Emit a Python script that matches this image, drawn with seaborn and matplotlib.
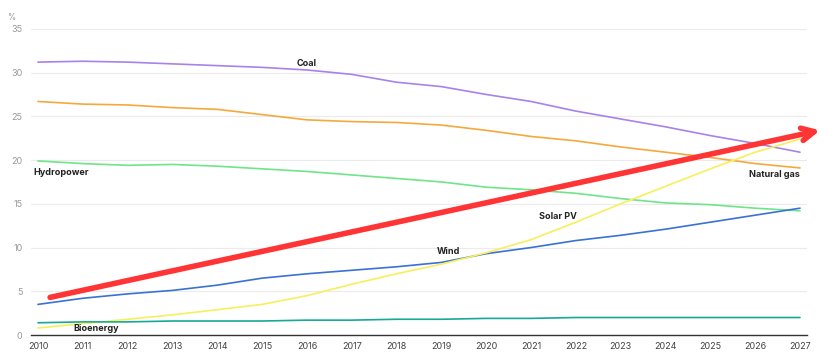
import pandas as pd
import numpy as np
import matplotlib.pyplot as plt
import seaborn as sns

# ---- data (share of electricity generation, %) ----
years = list(range(2010, 2028))
coal = [31.2, 31.3, 31.2, 31.0, 30.8, 30.6, 30.3, 29.8, 28.9, 28.4, 27.5, 26.7, 25.6, 24.7, 23.8, 22.8, 21.9, 20.9]
natural_gas = [26.7, 26.4, 26.3, 26.0, 25.8, 25.2, 24.6, 24.4, 24.3, 24.0, 23.4, 22.7, 22.2, 21.5, 20.9, 20.3, 19.6, 19.1]
hydropower = [19.9, 19.6, 19.4, 19.5, 19.3, 19.0, 18.7, 18.3, 17.9, 17.5, 16.9, 16.6, 16.2, 15.6, 15.1, 14.9, 14.5, 14.2]
wind = [3.5, 4.2, 4.7, 5.1, 5.7, 6.5, 7.0, 7.4, 7.8, 8.3, 9.3, 10.0, 10.8, 11.4, 12.1, 12.9, 13.7, 14.5]
solar_pv = [0.8, 1.3, 1.8, 2.3, 2.9, 3.5, 4.5, 5.8, 7.0, 8.1, 9.4, 10.9, 12.9, 15.0, 17.0, 19.0, 20.9, 22.4]
bioenergy = [1.4, 1.5, 1.5, 1.6, 1.6, 1.6, 1.7, 1.7, 1.8, 1.8, 1.9, 1.9, 2.0, 2.0, 2.0, 2.0, 2.0, 2.0]

series = {
    "Coal": coal,
    "Natural gas": natural_gas,
    "Hydropower": hydropower,
    "Wind": wind,
    "Solar PV": solar_pv,
    "Bioenergy": bioenergy,
}
colors = {
    "Coal": "#a882ea",
    "Natural gas": "#f7a83c",
    "Hydropower": "#6fe589",
    "Wind": "#3a72d4",
    "Solar PV": "#f7ef5c",
    "Bioenergy": "#17a898",
}

# trend arrow (start / end in data units)
arrow_start = (2010.27, 4.3)
arrow_end = (2027.45, 23.4)

# label positions
labels = {
    "Coal": (2016.0, 31.0, "center"),
    "Natural gas": (2027.0, 18.3, "right"),
    "Hydropower": (2009.9, 18.6, "left"),
    "Solar PV": (2021.6, 13.5, "center"),
    "Wind": (2019.15, 9.5, "center"),
    "Bioenergy": (2011.3, 0.75, "center"),
}

df = pd.DataFrame([(y, k, v) for k, vals in series.items() for y, v in zip(years, vals)],
                  columns=["Year", "Source", "Share"])

sns.set_style("white")
plt.rcParams['font.family'] = ['Inter', 'DejaVu Sans']

fig = plt.figure(figsize=(8.33, 3.61), dpi=100)
ax = fig.add_axes([0.037, 0.072, 0.932, 0.848])

sns.lineplot(data=df, x="Year", y="Share", hue="Source", palette=colors,
             linewidth=1.2, legend=False, ax=ax)

ax.set_xlim(2009.84, 2027.16)
ax.set_ylim(0, 35)
ax.set_xticks(years)
ax.set_yticks(range(0, 40, 5))
ax.tick_params(axis="x", labelsize=6.5, colors="#444444", length=3, width=0.8, pad=2)
ax.tick_params(axis="y", labelsize=6.5, colors="#999999", length=0, pad=6)
ax.yaxis.grid(True, color="#ebebeb", linewidth=0.8)
for s in ["top", "right", "left"]:
    ax.spines[s].set_visible(False)
ax.spines["bottom"].set_color("#333333")
ax.spines["bottom"].set_linewidth(1.0)
ax.set_xlabel("")
ax.set_ylabel("")

for name, (x, y, ha) in labels.items():
    ax.text(x, y, name, fontsize=6.5, fontweight="bold", ha=ha, va="center", color="#222222")

fig.text(0.008, 0.945, "%", fontsize=6, color="#999999")

ax.annotate("", xy=arrow_end, xytext=arrow_start, annotation_clip=False,
            arrowprops=dict(arrowstyle="->,head_length=0.9,head_width=0.45",
                            color="#ff3434", lw=4, shrinkA=0, shrinkB=0))

plt.savefig("out.png", dpi=100)
